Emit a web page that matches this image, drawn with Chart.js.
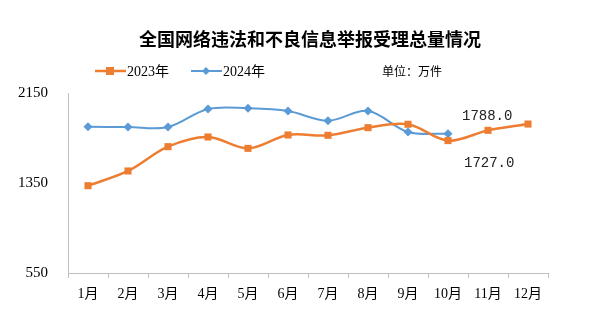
<!DOCTYPE html>
<html>
<head>
<meta charset="utf-8">
<script src="https://cdn.jsdelivr.net/npm/chart.js@4"></script>
<style>
  html, body { margin: 0; padding: 0; background: #fff; }
  #wrap { width: 602px; height: 325px; position: relative; }
</style>
</head>
<body>
<div id="wrap"><canvas id="chart"></canvas></div>
<script>
// ---- data ----
const MONTHS = ['1月','2月','3月','4月','5月','6月','7月','8月','9月','10月','11月','12月'];
const Y2023 = [1326, 1457, 1673, 1759, 1658, 1777, 1774, 1842, 1872, 1727, 1818, 1874];
const Y2024 = [1850, 1848, 1848, 2008, 2014, 1990, 1904, 1990, 1803, 1788];
const Y_TICKS = [550, 1350, 2150];

const ORANGE = '#ED7D31';
const BLUE = '#5B9BD5';
const SERIF = '"Liberation Serif", "Noto Sans CJK SC", serif';
const CJK = '"Noto Sans CJK SC", sans-serif';

// title, legend, unit and the two value labels
const decor = {
  id: 'decor',
  afterDraw(chart) {
    const ctx = chart.ctx;
    ctx.save();
    ctx.fillStyle = '#000';
    ctx.textBaseline = 'middle';

    ctx.font = 'bold 18px ' + CJK;
    ctx.textAlign = 'center';
    ctx.fillText('全国网络违法和不良信息举报受理总量情况', 310, 39);

    // legend
    const ly = 71;
    ctx.lineWidth = 2.5;
    ctx.strokeStyle = ORANGE;
    ctx.beginPath(); ctx.moveTo(95, ly); ctx.lineTo(126, ly); ctx.stroke();
    ctx.fillStyle = ORANGE;
    ctx.fillRect(106, ly - 4, 8, 8);
    ctx.strokeStyle = BLUE;
    ctx.lineWidth = 2;
    ctx.beginPath(); ctx.moveTo(191, ly); ctx.lineTo(222, ly); ctx.stroke();
    ctx.fillStyle = BLUE;
    ctx.beginPath();
    ctx.moveTo(206, ly - 4); ctx.lineTo(210, ly); ctx.lineTo(206, ly + 4); ctx.lineTo(202, ly);
    ctx.closePath(); ctx.fill();

    ctx.fillStyle = '#000';
    ctx.textAlign = 'left';
    ctx.font = '14px ' + SERIF;
    ctx.fillText('2023年', 127, ly + 1);
    ctx.fillText('2024年', 223, ly + 1);
    ctx.font = '12px ' + CJK;
    ctx.fillText('单位：万件', 382, ly);

    // value labels at 10月
    const xs = chart.scales.x, ys = chart.scales.y;
    ctx.font = '14px "Liberation Mono", monospace';
    ctx.fillStyle = '#222';
    ctx.textAlign = 'left';
    const i = 9;
    ctx.fillText(Y2024[i].toFixed(1), xs.getPixelForValue(i) + 14, ys.getPixelForValue(Y2024[i]) - 17);
    ctx.fillText(Y2023[i].toFixed(1), xs.getPixelForValue(i) + 16, ys.getPixelForValue(Y2023[i]) + 23);
    ctx.restore();
  }
};

new Chart(document.getElementById('chart'), {
  type: 'line',
  data: {
    labels: MONTHS,
    datasets: [
      {
        label: '2023年',
        data: Y2023,
        borderColor: ORANGE,
        backgroundColor: ORANGE,
        borderWidth: 2.5,
        pointStyle: 'rect',
        pointRadius: 5,
        pointBorderWidth: 0,
        tension: 0.35,
        order: 1
      },
      {
        label: '2024年',
        data: Y2024,
        borderColor: BLUE,
        backgroundColor: BLUE,
        borderWidth: 2,
        pointStyle: 'rectRot',
        pointRadius: 4.5,
        pointBorderWidth: 0,
        tension: 0.35,
        order: 2
      }
    ]
  },
  options: {
    responsive: true,
    maintainAspectRatio: false,
    animation: false,
    layout: { padding: { top: 93, right: 54, left: 0, bottom: 0 } },
    plugins: {
      legend: { display: false },
      tooltip: { enabled: false }
    },
    scales: {
      x: {
        offset: true,
        grid: { display: true, drawOnChartArea: false, tickLength: 5, color: '#BFBFBF', offset: true },
        border: { color: '#BFBFBF', width: 1 },
        ticks: { color: '#000', font: { family: SERIF, size: 14 }, padding: 8, maxRotation: 0, autoSkip: false },
        afterFit: s => { s.height = 52; }
      },
      y: {
        min: Y_TICKS[0],
        max: Y_TICKS[Y_TICKS.length - 1],
        afterBuildTicks: s => { s.ticks = Y_TICKS.map(v => ({ value: v })); },
        grid: { display: false },
        border: { color: '#BFBFBF', width: 1 },
        ticks: { color: '#000', font: { family: SERIF, size: 15 }, padding: 12, callback: v => String(v) },
        afterFit: s => { s.width = 68; }
      }
    }
  },
  plugins: [decor]
});
</script>
</body>
</html>
